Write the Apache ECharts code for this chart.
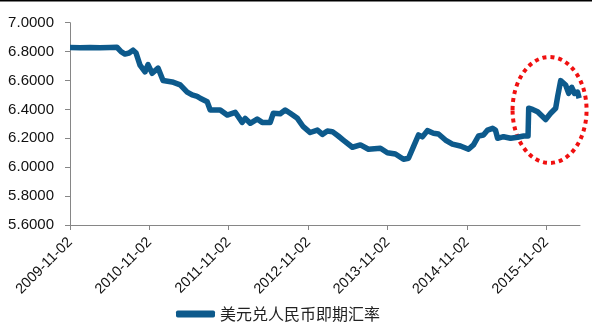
<!DOCTYPE html>
<html>
<head>
<meta charset="utf-8">
<script src="https://cdn.jsdelivr.net/npm/echarts@6/dist/echarts.min.js"></script>
<style>html,body{margin:0;padding:0;background:#fff;}#c{width:592px;height:328px;}</style>
</head>
<body>
<div id="c"></div>
<script>
const seriesName = '美元兑人民币即期汇率';
const dates = ['2009-11-02','2009-12-18','2010-02-02','2010-03-20','2010-05-05','2010-06-06','2010-06-25','2010-07-13','2010-08-01','2010-08-19','2010-09-02','2010-09-20','2010-10-13','2010-10-27','2010-11-15','2010-12-12','2011-01-04','2011-02-15','2011-03-24','2011-04-25','2011-05-18','2011-06-10','2011-06-24','2011-07-26','2011-08-09','2011-09-24','2011-10-26','2011-12-02','2012-01-03','2012-01-17','2012-02-09','2012-03-12','2012-04-04','2012-05-11','2012-05-25','2012-06-26','2012-07-19','2012-08-11','2012-09-13','2012-10-10','2012-11-11','2012-12-14','2013-01-06','2013-01-29','2013-02-21','2013-03-20','2013-04-12','2013-05-24','2013-06-30','2013-08-06','2013-09-30','2013-11-01','2013-12-08','2014-01-14','2014-02-06','2014-03-01','2014-03-24','2014-04-11','2014-05-04','2014-06-01','2014-06-24','2014-07-26','2014-08-27','2014-10-03','2014-11-09','2014-12-02','2014-12-25','2015-01-17','2015-02-05','2015-02-28','2015-03-13','2015-03-23','2015-04-19','2015-05-22','2015-06-23','2015-07-21','2015-08-10','2015-08-13','2015-08-31','2015-09-23','2015-10-30','2015-11-22','2015-12-15','2015-12-24','2016-01-07','2016-01-30','2016-02-13','2016-02-27','2016-03-11','2016-03-25','2016-04-01'];
const rates = [6.828,6.827,6.829,6.826,6.828,6.830,6.800,6.783,6.790,6.810,6.790,6.707,6.660,6.710,6.650,6.686,6.600,6.590,6.570,6.520,6.500,6.490,6.477,6.453,6.396,6.396,6.361,6.380,6.310,6.338,6.304,6.333,6.310,6.310,6.373,6.370,6.396,6.373,6.338,6.280,6.240,6.257,6.227,6.250,6.246,6.216,6.188,6.138,6.154,6.124,6.131,6.100,6.091,6.055,6.062,6.142,6.223,6.210,6.253,6.235,6.230,6.188,6.160,6.147,6.124,6.154,6.216,6.223,6.257,6.269,6.257,6.200,6.211,6.200,6.207,6.216,6.216,6.408,6.400,6.384,6.330,6.373,6.408,6.488,6.599,6.569,6.511,6.553,6.510,6.520,6.477];
const tickDates = ['2009-11-02','2010-11-02','2011-11-02','2012-11-02','2013-11-02','2014-11-02','2015-11-02'];
const axisStart = '2009-11-02';
const axisEnd = '2016-04-05';
const highlightCenter = ['2015-11-17', 6.396];

function ts(s){ const p = s.split('-').map(Number); return Date.UTC(p[0], p[1]-1, p[2]); }
function pad(n){ return (n<10?'0':'')+n; }
function fmt(v){ const d = new Date(v); return d.getUTCFullYear()+'-'+pad(d.getUTCMonth()+1)+'-'+pad(d.getUTCDate()); }

const tickVals = tickDates.map(ts);
const chart = echarts.init(document.getElementById('c'), null, {renderer:'canvas'});
chart.setOption({
  animation:false,
  backgroundColor:'#ffffff',
  grid:{left:70, right:12, top:22.7, bottom:103, containLabel:false},
  legend:{
    data:[seriesName], top:306, left:176, itemGap:5,
    icon:'roundRect', itemWidth:39, itemHeight:7,
    textStyle:{fontFamily:'Noto Sans CJK SC', fontSize:16, color:'#222'},
    padding:0
  },
  xAxis:{
    type:'value', min:ts(axisStart), max:ts(axisEnd),
    axisLine:{lineStyle:{color:'#868686', width:1}},
    axisTick:{show:true, length:5, lineStyle:{color:'#868686'}, customValues:tickVals},
    splitLine:{show:false},
    axisLabel:{customValues:tickVals, rotate:45, formatter:function(v){return fmt(v);}, fontFamily:'Liberation Sans, Arial', fontSize:14.5, color:'#111', margin:15}
  },
  yAxis:{
    type:'value', min:5.6, max:7.0, interval:0.2,
    axisLine:{show:true, lineStyle:{color:'#868686', width:1}},
    axisTick:{show:true, length:5, lineStyle:{color:'#868686'}},
    splitLine:{show:false},
    axisLabel:{formatter:function(v){return v.toFixed(4);}, fontFamily:'Liberation Sans, Arial', fontSize:15, color:'#111', margin:16}
  },
  series:[{
    name:seriesName, type:'line', showSymbol:false, symbol:'none',
    data:dates.map(function(d,i){return [ts(d), rates[i]];}),
    lineStyle:{color:'#0d5a8c', width:5.5, join:'round'},
    itemStyle:{color:'#0d5a8c'}
  }]
});
const c = chart.convertToPixel({gridIndex:0}, [ts(highlightCenter[0]), highlightCenter[1]]);
chart.setOption({
  graphic:[
    {type:'line', shape:{x1:0,y1:0.5,x2:592,y2:0.5}, style:{stroke:'#000', lineWidth:2}},
    {type:'ellipse', shape:{cx:c[0], cy:c[1], rx:37, ry:53}, style:{fill:null, stroke:'#f01010', lineWidth:4, lineDash:[4,4]}}
  ]
});
</script>
</body>
</html>
